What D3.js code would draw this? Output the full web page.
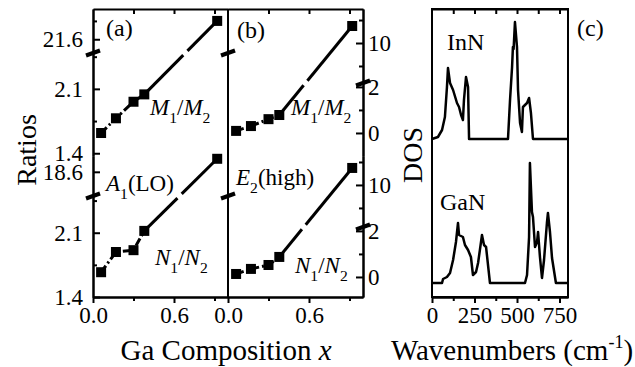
<!DOCTYPE html>
<html>
<head>
<meta charset="utf-8">
<script src="https://cdn.jsdelivr.net/npm/d3@7"></script>
<style>
  body { margin: 0; background: #fff; }
  svg { display: block; }
  svg text { font-family: "Liberation Serif", "DejaVu Serif", "Times New Roman", serif; fill: #000; }
</style>
</head>
<body>
<script>
// ---- data ----
var composition = [0.06, 0.17, 0.30, 0.38, 0.92];
var ratioM_a = [1.62, 1.78, 1.96, 2.04, 21.80];
var ratioN_a = [1.67, 1.89, 1.91, 2.12, 18.74];
var ratioM_b = [0.09, 0.30, 0.60, 0.78, 10.74];
var ratioN_b = [0.13, 0.35, 0.52, 0.87, 10.74];

var xTicksMajor = [0, 0.6], xTicksMinor = [0.3, 0.9];

var waveInN = [0, 35, 59, 76, 88, 94, 106, 124, 147, 159, 171, 182, 188, 200, 212, 218,
               447, 459, 471, 476, 480, 488, 500, 506, 518, 529, 535, 559, 571, 582, 594, 795];
var dosInN  = [0, 0.02, 0.09, 0.22, 0.52, 0.71, 0.56, 0.49, 0.36, 0.32, 0.24, 0.19, 0.39, 0.62, 0.52, 0,
               0, 0.39, 0.72, 0.92, 0.90, 1.17, 0.92, 0.49, 0.16, 0.07, 0.32, 0.36, 0.41, 0.26, 0, 0];
var waveGaN = [0, 59, 65, 88, 106, 124, 141, 153, 159, 182, 194, 212, 229, 241, 259, 271, 294, 306, 318, 341,
               547, 559, 571, 576, 588, 594, 606, 618, 624, 635, 647, 659, 676, 682, 694, 706, 729, 795];
var dosGaN  = [0, 0, 0.04, 0.06, 0.10, 0.23, 0.41, 0.60, 0.48, 0.46, 0.38, 0.33, 0.26, 0.08, 0.11, 0.20, 0.48, 0.38, 0.36, 0,
               0, 0.08, 0.46, 1.20, 0.71, 0.66, 0.36, 0.41, 0.51, 0.26, 0.05, 0.23, 0.60, 0.70, 0.51, 0.25, 0, 0];
var inNOffset = 1.44;
var dosTicksMajor = [0, 250, 500, 750], dosTicksMinor = [125, 375, 625];

// ---- layout ----
var W = 635, H = 367;
var yTop = 9, yMid = 156, yBottom = 297;
var FONT = "Liberation Serif, DejaVu Serif, serif";

var svg = d3.select("body").append("svg").attr("width", W).attr("height", H)
  .attr("font-family", FONT);

var xa = d3.scaleLinear().domain([0, 1]).range([93, 228]);
var xb = d3.scaleLinear().domain([0, 1]).range([228, 363]);
var xc = d3.scaleLinear().domain([0, 800]).range([432, 568]);
var yc = d3.scaleLinear().domain([0, 1]).range([283, 183]);

// broken y axes: each block has a lower and an upper scale
var blocks = {
  aTop: { lo: d3.scaleLinear().domain([1.37, 2.49]).range([yMid, 53]),
          hi: d3.scaleLinear().domain([21.45, 21.93]).range([53, yTop]),
          brk: 53, loMajor: [1.4, 2.1], loMinor: [1.75, 2.45], hiMajor: [21.6], hiMinor: [21.8] },
  aBot: { lo: d3.scaleLinear().domain([1.4, 2.5]).range([yBottom, 196]),
          hi: d3.scaleLinear().domain([18.34, 18.77]).range([196, yMid]),
          brk: 196, loMajor: [1.4, 2.1], loMinor: [1.75, 2.45], hiMajor: [18.6], hiMinor: [] },
  bTop: { lo: d3.scaleLinear().domain([-1, 2.17]).range([yMid, 83]),
          hi: d3.scaleLinear().domain([8.26, 11.48]).range([83, yTop]),
          brk: 83, loMajor: [0, 2], loMinor: [1], hiMajor: [10], hiMinor: [9, 11] },
  bBot: { lo: d3.scaleLinear().domain([-0.87, 2.17]).range([yBottom, 227]),
          hi: d3.scaleLinear().domain([8.17, 11.26]).range([227, yMid]),
          brk: 227, loMajor: [0, 2], loMinor: [1], hiMajor: [10], hiMinor: [9, 11] }
};

function yOf(b, v) { return v > b.lo.domain()[1] ? b.hi(v) : b.lo(v); }

function fmtTick(d) { return Number.isInteger(d) ? String(d) : d3.format(".1f")(d); }

function styleAxis(g, size) {
  g.attr("font-family", FONT);
  g.select(".domain").attr("stroke", "#000").attr("stroke-width", 2);
  g.selectAll(".tick line").attr("stroke", "#000").attr("stroke-width", 2);
  g.selectAll(".tick text").attr("font-family", FONT).attr("font-size", size || 23).attr("fill", "#000");
}

// y axis for one block at position x, side "left" (labels left) or "right"
function drawYAxis(b, x, side) {
  [["lo", b.loMajor, b.loMinor], ["hi", b.hiMajor, b.hiMinor]].forEach(function (s) {
    var sc = b[s[0]];
    var ax = side === "left" ? d3.axisLeft(sc) : d3.axisRight(sc);
    var g = svg.append("g").attr("transform", "translate(" + x + ",0)")
      .call(ax.tickValues(s[1]).tickSize(-7).tickSizeOuter(0).tickPadding(side === "left" ? 10 : 5)
        .tickFormat(fmtTick));
    styleAxis(g);
    var gm = svg.append("g").attr("transform", "translate(" + x + ",0)")
      .call((side === "left" ? d3.axisLeft(sc) : d3.axisRight(sc)).tickValues(s[2]).tickSize(-4).tickSizeOuter(0).tickFormat(""));
    styleAxis(gm);
  });
}

function breakMark(x, y) {
  svg.append("line").attr("x1", x - 7).attr("y1", y + 2.5).attr("x2", x + 7).attr("y2", y - 2.5)
    .attr("stroke", "#000").attr("stroke-width", 4);
}

function drawXAxis(sc, major, minor, fmt) {
  var g = svg.append("g").attr("transform", "translate(0," + yBottom + ")")
    .call(d3.axisBottom(sc).tickValues(major).tickSize(6).tickSizeOuter(0).tickPadding(4).tickFormat(fmt));
  styleAxis(g);
  var gm = svg.append("g").attr("transform", "translate(0," + yBottom + ")")
    .call(d3.axisBottom(sc).tickValues(minor).tickSize(4).tickSizeOuter(0).tickFormat(""));
  styleAxis(gm);
  // top border with inward ticks
  var gt = svg.append("g").attr("transform", "translate(0," + yTop + ")")
    .call(d3.axisBottom(sc).tickValues(major.concat(minor).filter(function (d) { return d > sc.domain()[0]; }))
      .tickSize(5).tickSizeOuter(0).tickFormat(""));
  styleAxis(gt);
}

function drawSeries(sc, b, vals) {
  var pts = composition.map(function (c, i) { return [sc(c), yOf(b, vals[i])]; });
  svg.append("path").datum(pts.slice(0, 4))
    .attr("d", d3.line()).attr("fill", "none").attr("stroke", "#000")
    .attr("stroke-width", 3).attr("stroke-dasharray", "8,3,2,3");
  // long segment, split where it crosses the break
  var p4 = pts[3], p5 = pts[4];
  var t = (p4[1] - b.brk) / (p4[1] - p5[1]);
  var len = Math.hypot(p5[0] - p4[0], p5[1] - p4[1]);
  var g = 3 / len;
  function at(u) { return [p4[0] + u * (p5[0] - p4[0]), p4[1] + u * (p5[1] - p4[1])]; }
  [[0, t - g], [t + g, 1]].forEach(function (r) {
    var a = at(r[0]), c = at(r[1]);
    svg.append("line").attr("x1", a[0]).attr("y1", a[1]).attr("x2", c[0]).attr("y2", c[1])
      .attr("stroke", "#000").attr("stroke-width", 3);
  });
  svg.append("g").selectAll("rect").data(pts).enter().append("rect")
    .attr("x", function (d) { return d[0] - 5; }).attr("y", function (d) { return d[1] - 5; })
    .attr("width", 10).attr("height", 10).attr("fill", "#000");
}

// ---- panels (a) and (b) ----
drawXAxis(xa, xTicksMajor, xTicksMinor, d3.format(".1f"));
drawXAxis(xb, xTicksMajor, xTicksMinor, d3.format(".1f"));
drawYAxis(blocks.aTop, 93, "left");
drawYAxis(blocks.aBot, 93, "left");
drawYAxis(blocks.bTop, 363, "right");
drawYAxis(blocks.bBot, 363, "right");
svg.append("line").attr("x1", 228).attr("x2", 228).attr("y1", yTop).attr("y2", yBottom)
  .attr("stroke", "#000").attr("stroke-width", 2);

breakMark(93, blocks.aTop.brk); breakMark(93, blocks.aBot.brk);
breakMark(228, blocks.aTop.brk); breakMark(228, blocks.aBot.brk);
breakMark(363, blocks.bTop.brk); breakMark(363, blocks.bBot.brk);

drawSeries(xa, blocks.aTop, ratioM_a);
drawSeries(xa, blocks.aBot, ratioN_a);
drawSeries(xb, blocks.bTop, ratioM_b);
drawSeries(xb, blocks.bBot, ratioN_b);

// ---- panel (c) ----
var gc = svg.append("g").attr("transform", "translate(0," + yBottom + ")")
  .call(d3.axisBottom(xc).tickValues(dosTicksMajor).tickSize(6).tickSizeOuter(0).tickPadding(4));
styleAxis(gc);
var gcm = svg.append("g").attr("transform", "translate(0," + yBottom + ")")
  .call(d3.axisBottom(xc).tickValues(dosTicksMinor).tickSize(4).tickSizeOuter(0).tickFormat(""));
styleAxis(gcm);
var gct = svg.append("g").attr("transform", "translate(0," + yTop + ")")
  .call(d3.axisBottom(xc).tickValues(dosTicksMajor.concat(dosTicksMinor).filter(function (d) { return d > 0; }))
    .tickSize(5).tickSizeOuter(0).tickFormat(""));
styleAxis(gct);
svg.append("rect").attr("x", 432).attr("y", yTop).attr("width", 568 - 432).attr("height", yBottom - yTop)
  .attr("fill", "none").attr("stroke", "#000").attr("stroke-width", 2);

var dosLine = d3.line().x(function (d) { return xc(d[0]); }).y(function (d) { return yc(d[1]); });
svg.append("path").datum(waveInN.map(function (w, i) { return [w, dosInN[i] + inNOffset]; }))
  .attr("d", dosLine).attr("fill", "none").attr("stroke", "#000").attr("stroke-width", 2.5)
  .attr("stroke-linejoin", "round");
svg.append("path").datum(waveGaN.map(function (w, i) { return [w, dosGaN[i]]; }))
  .attr("d", dosLine).attr("fill", "none").attr("stroke", "#000").attr("stroke-width", 2.5)
  .attr("stroke-linejoin", "round");

// ---- text ----
function label(x, y, size, parts, anchor) {
  var t = svg.append("text").attr("x", x).attr("y", y).attr("font-size", size)
    .attr("font-family", FONT).attr("text-anchor", anchor || "start");
  parts.forEach(function (p) {
    var s = t.append("tspan").text(p.t);
    if (p.i) s.attr("font-style", "italic");
    if (p.sub) s.attr("font-size", size * 0.68).attr("dy", 8);
    if (p.up) s.attr("dy", -8);
  });
  return t;
}
function ratioLabel(x, y, L) {
  label(x, y, 23, [{ t: L, i: true }, { t: "1", sub: true }, { t: "/", up: true }, { t: L, i: true }, { t: "2", sub: true }]);
}

label(106, 36, 24, [{ t: "(a)" }]);
label(237, 38, 24, [{ t: "(b)" }]);
label(577, 36, 24, [{ t: "(c)" }]);
ratioLabel(150, 115, "M");
ratioLabel(291, 115, "M");
ratioLabel(155, 265, "N");
ratioLabel(295, 273, "N");
label(106, 191, 23, [{ t: "A", i: true }, { t: "1", sub: true }, { t: "(LO)", up: true }]);
label(236, 185, 23, [{ t: "E", i: true }, { t: "2", sub: true }, { t: "(high)", up: true }]);
label(447, 50, 24, [{ t: "InN" }]);
label(440, 210, 24, [{ t: "GaN" }]);

svg.append("text").attr("transform", "translate(36,150) rotate(-90)").attr("text-anchor", "middle")
  .attr("font-family", FONT).attr("font-size", 28).text("Ratios");
svg.append("text").attr("transform", "translate(422,155) rotate(-90)").attr("text-anchor", "middle")
  .attr("font-family", FONT).attr("font-size", 28).text("DOS");

label(226, 360, 29, [{ t: "Ga Composition " }, { t: "x", i: true }], "middle");
var wl = svg.append("text").attr("x", 512).attr("y", 360).attr("font-size", 29)
  .attr("font-family", FONT).attr("text-anchor", "middle");
wl.append("tspan").text("Wavenumbers (cm");
wl.append("tspan").text("-1").attr("font-size", 18).attr("dy", -12);
wl.append("tspan").text(")").attr("dy", 12);
</script>
</body>
</html>
